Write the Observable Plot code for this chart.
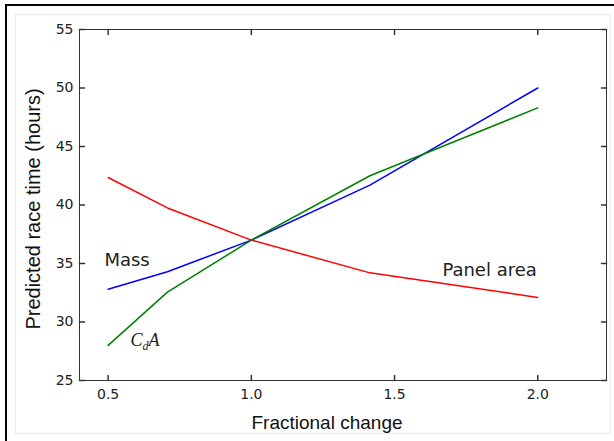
<!DOCTYPE html>
<html>
<head>
<meta charset="utf-8">
<script src="https://cdn.jsdelivr.net/npm/d3@7"></script>
<script src="https://cdn.jsdelivr.net/npm/@observablehq/plot@0.6"></script>
<style>
  body { margin: 0; background: #fff; }
  #wrap { position: relative; width: 614px; height: 441px; overflow: hidden; }
  .deco { position: absolute; pointer-events: none; }
</style>
</head>
<body>
<div id="wrap"></div>
<script>
// ---- data ----
const fractionalChange = [0.5, 0.707, 1.0, 1.414, 2.0];
const massTime  = [32.8, 34.3, 37.0, 41.7, 50.0];
const cdaTime   = [28.0, 32.55, 37.0, 42.5, 48.3];
const areaTime  = [42.35, 39.75, 37.0, 34.2, 32.1];
const xTicks = [0.5, 1.0, 1.5, 2.0];
const yTicks = [25, 30, 35, 40, 45, 50, 55];
const labelTexts = ["Mass", "Panel area"];
const labelX = [0.487, 1.667];
const labelY = [35.3, 34.44];
const cdaLabel = { text: "CdA", x: 0.578, y: 28.42 };

const rows = (vals, name) => fractionalChange.map((f, i) => ({ f, t: vals[i], name }));
const series = [
  ...rows(areaTime, "Panel area"),
  ...rows(massTime, "Mass"),
  ...rows(cdaTime, "CdA")
];
const labels = labelTexts.map((t, i) => ({ t, x: labelX[i], y: labelY[i] }));

const tickShape = { draw(ctx, l) { ctx.moveTo(0, 0); ctx.lineTo(0, -l); } };
const tickStroke = "#333";

const chart = Plot.plot({
  width: 614,
  height: 441,
  marginLeft: 79,
  marginRight: 8,
  marginTop: 29,
  marginBottom: 61,
  style: { background: "transparent", fontFamily: "DejaVu Sans", fontSize: "14px", color: "#222" },
  x: { domain: [0.4, 2.24] },
  y: { domain: [25, 55] },
  color: { domain: ["Panel area", "Mass", "CdA"], range: ["#ff0000", "#0000ff", "#008000"] },
  marks: [
    Plot.line(series, { x: "f", y: "t", z: "name", stroke: "name", strokeWidth: 1.5 }),
    Plot.frame({ stroke: tickStroke, strokeWidth: 1 }),
    // inward ticks on all four sides
    Plot.vector(yTicks, { y: d => d, frameAnchor: "left", rotate: 90, length: 5, anchor: "start", shape: tickShape, stroke: tickStroke }),
    Plot.vector(yTicks, { y: d => d, frameAnchor: "right", rotate: -90, length: 5, anchor: "start", shape: tickShape, stroke: tickStroke }),
    Plot.vector(xTicks, { x: d => d, frameAnchor: "bottom", rotate: 0, length: 5, anchor: "start", shape: tickShape, stroke: tickStroke }),
    Plot.vector(xTicks, { x: d => d, frameAnchor: "top", rotate: 180, length: 5, anchor: "start", shape: tickShape, stroke: tickStroke }),
    Plot.axisX({ ticks: xTicks, tickSize: 0, tickPadding: 9, tickFormat: d3.format(".1f"), label: null, fontSize: 14, fill: "#222" }),
    Plot.axisY({ ticks: yTicks, tickSize: 0, tickPadding: 6, label: null, fontSize: 14, fill: "#222" }),
    Plot.text(["Fractional change"], { frameAnchor: "bottom", textAnchor: "middle", lineAnchor: "top", dy: 35, dx: -16, fontSize: 19, fontFamily: "Liberation Sans", fill: "#111" }),
    Plot.text(["Predicted race time (hours)"], { frameAnchor: "left", textAnchor: "middle", lineAnchor: "middle", rotate: -90, dx: -46, dy: 4, fontSize: 20, fontFamily: "Liberation Sans", fill: "#111" }),
    Plot.text(labels, { x: "x", y: "y", text: "t", textAnchor: "start", fontSize: 18, fontFamily: "DejaVu Sans", fill: "#222" }),
    Plot.text([cdaLabel], { x: "x", y: "y", text: "text", textAnchor: "start", fontSize: 18, fontFamily: "Liberation Serif", fontStyle: "italic", fill: "#222" })
  ]
});

// render subscript for C_d A
chart.querySelectorAll("text").forEach(t => {
  if (t.textContent === "CdA") {
    t.innerHTML = '<tspan>C</tspan><tspan dy="4" font-size="12">d</tspan><tspan dy="-4">A</tspan>';
  }
});

const wrap = document.getElementById("wrap");
wrap.appendChild(chart);
const addDeco = (css) => { const d = document.createElement("div"); d.className = "deco"; Object.assign(d.style, css); wrap.appendChild(d); };
addDeco({ left: "15px", top: "14px", width: "594px", height: "418px", border: "1px solid #ececec" });
addDeco({ left: "5px", top: "4px", width: "609px", height: "2px", background: "#000" });
addDeco({ left: "5px", top: "4px", width: "2px", height: "437px", background: "#000" });
</script>
</body>
</html>
